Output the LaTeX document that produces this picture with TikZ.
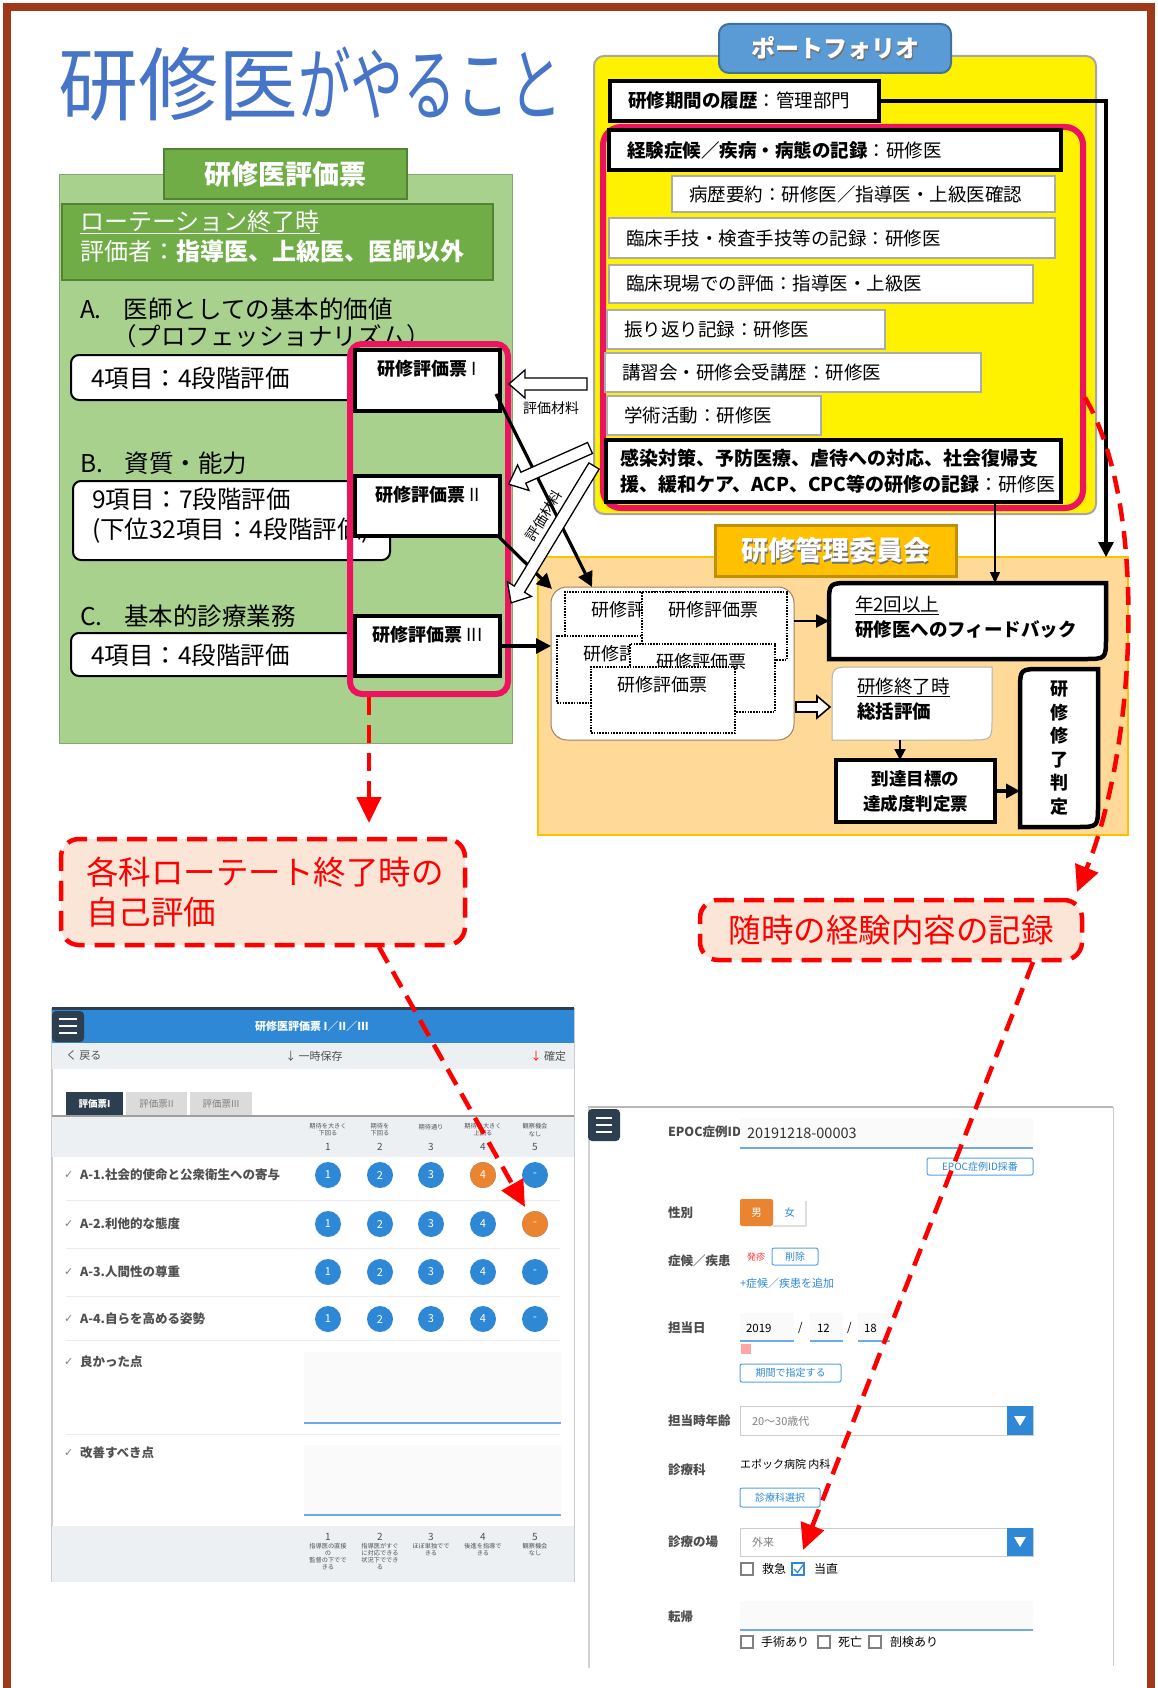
\documentclass[tikz,border=0pt]{standalone}
\usepackage{fontspec}
\setmainfont{Noto Sans CJK JP}
\newfontfamily\symfont{DejaVu Sans}
\usetikzlibrary{arrows.meta,calc}
\definecolor{framec}{RGB}{160,57,25}
\definecolor{titleblue}{RGB}{70,117,200}
\definecolor{glight}{RGB}{169,209,142}
\definecolor{gmid}{RGB}{112,173,71}
\definecolor{gborder}{RGB}{84,130,53}
\definecolor{pinkc}{RGB}{236,20,95}
\definecolor{tabblue}{RGB}{91,155,213}
\definecolor{tabblueb}{RGB}{65,113,156}
\definecolor{ofill}{RGB}{255,217,151}
\definecolor{oborder}{RGB}{255,192,0}
\definecolor{otabc}{RGB}{255,192,0}
\definecolor{otabb}{RGB}{191,144,0}
\definecolor{callfill}{RGB}{251,229,214}
\definecolor{appblue}{RGB}{46,136,214}
\definecolor{appdark}{RGB}{44,62,80}
\definecolor{appgray}{RGB}{237,240,242}
\definecolor{apporange}{RGB}{234,132,48}
\definecolor{apptext}{RGB}{80,80,80}
\begin{document}
\begin{tikzpicture}[x=1pt,y=-1pt,
  every node/.style={inner sep=0pt,outer sep=0pt},
  blk/.style={line width=3.2pt,-{Triangle[length=15pt,width=15pt]}},
  reddash/.style={draw=red,line width=4.5pt,dash pattern=on 18pt off 10pt,-{Triangle[length=26pt,width=24pt]}},
  wbox/.style={draw=gray!65,line width=1.3pt,fill=white,anchor=north west},
  blkbox/.style={draw=black,line width=4.5pt,fill=white,anchor=north west},
  hol/.style={draw=black,line width=1.3pt,fill=white,line join=miter},
  dotr/.style={draw=black,line width=2pt,dash pattern=on 1.6pt off 1.2pt,fill=white,anchor=north west},
  ptxt/.style={anchor=west,font=\fontsize{18.5}{23}\selectfont},
  gtxt/.style={anchor=west,font=\fontsize{24.5}{30}\selectfont},
  htxt/.style={font=\fontsize{18}{20}\selectfont},
  stxt/.style={anchor=north west,font=\fontsize{18}{21}\selectfont},
  call/.style={draw=red,line width=4.5pt,dash pattern=on 20pt off 10pt,fill=callfill,rounded corners=18pt,anchor=north west},
  rtxt/.style={text=red,font=\fontsize{32.5}{40}\selectfont},
  lab/.style={anchor=west,text=black!70,font=\bfseries\fontsize{12.5}{14}\selectfont},
  tiny/.style={align=center,text=apptext,font=\fontsize{6.2}{7.2}\selectfont},
  btn/.style={draw=appblue!80,line width=1pt,rounded corners=2pt,fill=white,anchor=north west,text=appblue,font=\fontsize{10}{11}\selectfont},
  rowl/.style={anchor=west,text=apptext,font=\bfseries\fontsize{12.5}{14}\selectfont},
  tck/.style={anchor=west,text=gray,font=\symfont\fontsize{11}{12}\selectfont},
  cnum/.style={circle,minimum size=26,text=white,font=\fontsize{11}{12}\selectfont},
  stx/.style={anchor=west,font=\fontsize{11.5}{13}\selectfont},
]
\fill[white] (0,0) rectangle (1158,1688);
\useasboundingbox (0,0) rectangle (1158,1688);
\draw[framec,line width=8pt] (7,7) rectangle (1151,1730);

% title
\node[anchor=west,text=titleblue,font=\fontsize{80}{90}\selectfont] (title) at (58,84) {研修医\scalebox{0.66}[1]{がやること}};

% ---------------- green panel
\node[draw=gborder!70,line width=1pt,fill=glight,minimum width=453,minimum height=568,anchor=north west] (gpanel) at (59,175) {};
\node[draw=gborder,line width=2pt,fill=gmid,minimum width=243,minimum height=50,anchor=north west] (gtab) at (164,149) {};
\node[text=white,font=\bfseries\fontsize{27}{30}\selectfont] (gtabt) at (gtab.center) {研修医評価票};
\node[draw=gborder,line width=2pt,fill=gmid,minimum width=431,minimum height=76,anchor=north west] (rot) at (62,204) {};
\node[anchor=north west,align=left,text=white,font=\fontsize{24}{30}\selectfont] (rott) at (80,210) {\underline{ローテーション終了時}\\評価者：\textbf{指導医、上級医、医師以外}};

\node[gtxt] (Ah) at (80,309) {A.\hspace{0.9em}医師としての基本的価値};
\node[gtxt] (Ah2) at (112,336) {（プロフェッショナリズム）};
\node[draw,line width=2pt,fill=white,rounded corners=8pt,minimum width=311,minimum height=45,anchor=north west] (boxA) at (71,355) {};
\node[gtxt] (boxAt) at (91,378) {4項目：4段階評価};

\node[gtxt] (Bh) at (80,463) {B.\hspace{0.9em}資質・能力};
\node[draw,line width=2pt,fill=white,rounded corners=8pt,minimum width=317,minimum height=79,anchor=north west] (boxB) at (73,481) {};
\node[anchor=north west,align=left,font=\fontsize{24.5}{30}\selectfont] (boxBt) at (92,488) {9項目：7段階評価\\(下位32項目：4段階評価)};

\node[gtxt] (Ch) at (80,616) {C.\hspace{0.9em}基本的診療業務};
\node[draw,line width=2pt,fill=white,rounded corners=8pt,minimum width=306,minimum height=43,anchor=north west] (boxC) at (71,633) {};
\node[gtxt] (boxCt) at (91,655) {4項目：4段階評価};

\node[draw=pinkc,line width=6pt,rounded corners=12pt,minimum width=158,minimum height=350,anchor=north west] (pinkL) at (350,344) {};
\node[blkbox,minimum width=145,minimum height=61] (h1) at (355,350) {};
\node[htxt] (h1t) at ($(h1.north)+(0,19)$) {\textbf{研修評価票} I};
\node[blkbox,minimum width=145,minimum height=60] (h2) at (355,476) {};
\node[htxt] (h2t) at ($(h2.north)+(0,19)$) {\textbf{研修評価票} II};
\node[blkbox,minimum width=145,minimum height=60] (h3) at (355,616) {};
\node[htxt] (h3t) at ($(h3.north)+(0,19)$) {\textbf{研修評価票} III};

% ---------------- portfolio
\node[draw=gray!70,line width=2pt,fill=yellow,rounded corners=10pt,minimum width=502,minimum height=458,anchor=north west] (yel) at (594,56) {};
\node[draw=tabblueb,line width=2pt,fill=tabblue,rounded corners=10pt,minimum width=232,minimum height=49,anchor=north west] (ptab) at (719,24) {};
\node[text=black!55,font=\bfseries\fontsize{24}{30}\selectfont] (ptabs) at ($(ptab.center)+(1.5,1.5)$) {ポートフォリオ};
\node[text=white,font=\bfseries\fontsize{24}{30}\selectfont] (ptabt) at (ptab.center) {ポートフォリオ};
\node[draw=pinkc,line width=6pt,rounded corners=18pt,minimum width=480,minimum height=381,anchor=north west] (pinkP) at (603,127) {};

\node[blkbox,minimum width=269,minimum height=40] (hist) at (610,81) {};
\node[ptxt] (histt) at ($(hist.west)+(18,0)$) {\textbf{研修期間の履歴}：管理部門};
\node[blkbox,minimum width=452,minimum height=40] (keiken) at (609,130) {};
\node[ptxt] (keikent) at ($(keiken.west)+(18,0)$) {\textbf{経験症候／疾病・病態の記録}：研修医};
\node[wbox,minimum width=383,minimum height=36] (byo) at (672,176) {};
\node[ptxt] (byot) at ($(byo.west)+(17,0)$) {病歴要約：研修医／指導医・上級医確認};
\node[wbox,minimum width=446,minimum height=40] (shugi) at (609,218) {};
\node[ptxt] (shugit) at ($(shugi.west)+(17,0)$) {臨床手技・検査手技等の記録：研修医};
\node[wbox,minimum width=424,minimum height=38] (genba) at (609,265) {};
\node[ptxt] (genbat) at ($(genba.west)+(17,0)$) {臨床現場での評価：指導医・上級医};
\node[wbox,minimum width=278,minimum height=39] (furi) at (607,310) {};
\node[ptxt] (furit) at ($(furi.west)+(17,0)$) {振り返り記録：研修医};
\node[wbox,minimum width=376,minimum height=39] (koshu) at (605,353) {};
\node[ptxt] (koshut) at ($(koshu.west)+(17,0)$) {講習会・研修会受講歴：研修医};
\node[wbox,minimum width=214,minimum height=39] (gaku) at (607,396) {};
\node[ptxt] (gakut) at ($(gaku.west)+(17,0)$) {学術活動：研修医};
\node[blkbox,minimum width=455,minimum height=62] (kansen) at (606,440) {};
\node[anchor=west,align=left,font=\fontsize{19}{26}\selectfont] (kansent) at ($(kansen.west)+(14,0)$) {\textbf{感染対策、予防医療、虐待への対応、社会復帰支}\\\textbf{援、緩和ケア、ACP、CPC等の研修の記録}：研修医};

% ---------------- orange panel
\node[draw=oborder,line width=1.5pt,fill=ofill,minimum width=590,minimum height=278,anchor=north west] (opanel) at (538,557) {};
\node[draw=otabb,line width=3pt,fill=otabc,minimum width=241,minimum height=51,anchor=north west] (otab) at (715,525) {};
\node[text=black!55,font=\bfseries\fontsize{27}{32}\selectfont] (otabs) at ($(otab.center)+(1.5,1.5)$) {研修管理委員会};
\node[text=white,font=\bfseries\fontsize{27}{32}\selectfont] (otabt) at (otab.center) {研修管理委員会};

\node[draw=brown!50!gray,line width=1pt,fill=white,rounded corners=16pt,minimum width=243,minimum height=153,anchor=north west] (stack) at (551,587) {};
\node[dotr,minimum width=135,minimum height=58] (sA) at (565,592) {};
\node[stxt] at ($(sA.north west)+(26,9)$) {研修評価票};
\node[dotr,minimum width=143,minimum height=67] (sC) at (557,636) {};
\node[stxt] at ($(sC.north west)+(26,9)$) {研修評価票};
\node[dotr,minimum width=145,minimum height=68] (sB) at (642,592) {};
\node[stxt] at ($(sB.north west)+(26,9)$) {研修評価票};
\node[dotr,minimum width=145,minimum height=68] (sD) at (630,644) {};
\node[stxt] at ($(sD.north west)+(26,9)$) {研修評価票};
\node[dotr,minimum width=144,minimum height=66] (sE) at (591,667) {};
\node[stxt] at ($(sE.north west)+(26,9)$) {研修評価票};

% feedback box
\node[minimum width=277,minimum height=76,anchor=north west] (fb) at (829,583) {};
\draw[line width=4.5pt,fill=white] (fb.south west) -- ($(fb.north west)+(0,22)$) .. controls (fb.north west) .. ($(fb.north west)+(22,0)$) -- (fb.north east) -- ($(fb.south east)+(0,-22)$) .. controls (fb.south east) .. ($(fb.south east)+(-22,0)$) -- cycle;
\node[anchor=north west,align=left,font=\fontsize{18.5}{25}\selectfont] (fbt) at (855,596) {\underline{年2回以上}\\\textbf{研修医へのフィードバック}};
% summary box
\node[minimum width=160,minimum height=73,anchor=north west] (sk) at (832,667) {};
\draw[line width=1pt,draw=gray!60,fill=white] (sk.south west) -- ($(sk.north west)+(0,22)$) .. controls (sk.north west) .. ($(sk.north west)+(22,0)$) -- (sk.north east) -- ($(sk.south east)+(0,-22)$) .. controls (sk.south east) .. ($(sk.south east)+(-22,0)$) -- cycle;
\node[anchor=north west,align=left,font=\fontsize{18.5}{25}\selectfont] (skt) at (857,678) {\underline{研修終了時}\\\textbf{総括評価}};
% attainment box
\node[blkbox,minimum width=159,minimum height=62] (tat) at (836,760) {};
\node[align=center,font=\bfseries\fontsize{17.5}{25}\selectfont] (tatt) at (tat.center) {到達目標の\\達成度判定票};
% completion
\node[minimum width=78,minimum height=158,anchor=north west] (hantei) at (1020,669) {};
\draw[line width=4.5pt,fill=white] (hantei.south west) -- ($(hantei.north west)+(0,22)$) .. controls (hantei.north west) .. ($(hantei.north west)+(22,0)$) -- (hantei.north east) -- ($(hantei.south east)+(0,-22)$) .. controls (hantei.south east) .. ($(hantei.south east)+(-22,0)$) -- cycle;
\node[align=center,font=\bfseries\fontsize{18}{23.5}\selectfont] (hanteit) at (hantei.center) {研\\修\\修\\了\\判\\定};

% ---------------- connectors
\draw[blk] (hist.east) -| ($(opanel.north east)+(-22,0)$);
\coordinate (xc) at (995,0);
\draw[line width=1.5pt,-{Triangle[length=11pt,width=10pt]}] (kansen.south -| xc) -- (fb.north -| xc);
\draw[line width=2.6pt,-{Triangle[length=13pt,width=13pt]}] (fb.west -| stack.east) -- (fb.west);
\coordinate (xd) at (900,0);
\draw[line width=2pt,-{Triangle[length=11pt,width=11pt]}] (sk.south -| xd) -- (tat.north -| xd);
\draw[line width=3.5pt,-{Triangle[length=14pt,width=14pt]}] (tat.east) -- (tat.east -| hantei.west);

\draw[blk] ($(h1.south east)+(-4,-17)$) -- ($(stack.north west)+(41,0)$);
\draw[blk] ($(h2.south east)+(-3,-1)$) -- ($(stack.north west)+(1,2)$);
\draw[blk] (h3.east) -- (h3.east -| stack.west);

% hollow arrows
\begin{scope}[shift={(587,384)},rotate=180]
\draw[hol] (0,-6)--(62,-6)--(62,-14)--(78,0)--(62,14)--(62,6)--(0,6)--cycle;
\end{scope}
\node[font=\fontsize{14}{16}\selectfont] (mat1) at (551,408) {評価材料};
\begin{scope}[shift={(590,448)},rotate=204]
\draw[hol] (0,-6)--(73,-6)--(73,-14)--(89,0)--(73,14)--(73,6)--(0,6)--cycle;
\end{scope}
\begin{scope}[shift={(594,466)},rotate=238.8]
\draw[hol] (0,-6)--(144,-6)--(144,-14)--(160,0)--(144,14)--(144,6)--(0,6)--cycle;
\end{scope}
\node[rotate=58,font=\fontsize{14}{16}\selectfont] (mat2) at (544,516) {評価材料};
\begin{scope}[shift={(796,707)}]
\draw[hol,line width=1.6pt] (0,-5)--(21,-5)--(21,-11)--(34,0)--(21,11)--(21,5)--(0,5)--cycle;
\end{scope}

% ---------------- callouts
\node[call,minimum width=404,minimum height=106] (call1) at (61,839) {};
\node[rtxt,anchor=north west,align=left] (call1t) at (86,857) {各科ローテート終了時の\\自己評価};
\node[call,minimum width=382,minimum height=60] (call2) at (700,900) {};
\node[rtxt] (call2t) at (call2.center) {随時の経験内容の記録};

% ---------------- left screenshot
\fill[white] (52,1008) rectangle (574,1582);
\draw[gray!40,line width=1.5pt] (52,1008) -- (52,1582);
\draw[gray!40,line width=1pt] (574,1008) -- (574,1582);
\fill[appdark] (52,1007) rectangle (574,1010);
\fill[appblue] (52,1010) rectangle (574,1043);
\fill[appdark,rounded corners=4pt] (52,1011) rectangle (84,1042);
\foreach \yy in {1019,1026,1033} \draw[white,line width=2pt] (59,\yy) -- (77,\yy);
\node[text=white,font=\bfseries\fontsize{11}{12}\selectfont] at (312,1026) {研修医評価票 I／II／III};
\fill[appgray] (52,1043) rectangle (574,1069);
\node[anchor=west,text=apptext,font=\fontsize{11}{12}\selectfont] at (66,1056) {く 戻る};
\node[text=apptext,font=\fontsize{11}{12}\selectfont] at (314,1056) {↓ 一時保存};
\node[anchor=east,text=apptext,font=\fontsize{11}{12}\selectfont] at (566,1056) {{\color{red}↓} 確定};
\fill[appdark] (66,1092) rectangle (123,1116);
\node[text=white,font=\bfseries\fontsize{9.5}{10}\selectfont] at (94.5,1104) {評価票I};
\fill[gray!28] (126,1092) rectangle (187,1116);
\node[text=gray,font=\fontsize{9.5}{10}\selectfont] at (156.5,1104) {評価票II};
\fill[gray!28] (190,1092) rectangle (252,1116);
\node[text=gray,font=\fontsize{9.5}{10}\selectfont] at (221,1104) {評価票III};
\fill[appgray] (52,1116) rectangle (574,1157);
\draw[gray!75,line width=1.2pt] (52,1116) -- (574,1116);
\node[tiny] at (328,1130) {期待を大きく\\下回る};
\node[tiny] at (380,1130) {期待を\\下回る};
\node[tiny] at (431,1127) {期待通り};
\node[tiny] at (483,1130) {期待を大きく\\上回る};
\node[tiny] at (535,1130) {観察機会\\なし};
\foreach \xx/\n in {328/1,380/2,431/3,483/4,535/5}
  \node[text=apptext,font=\fontsize{10}{11}\selectfont] at (\xx,1147) {\n};
\foreach \yy in {1200,1248,1296,1340,1434} \draw[gray!15,line width=1pt] (66,\yy) -- (560,\yy);
\foreach \yy/\lab in {1175/A-1.社会的使命と公衆衛生への寄与,1224/A-2.利他的な態度,1272/A-3.人間性の尊重,1319/A-4.自らを高める姿勢}{
  \node[tck] at (64,\yy) {✓};
  \node[rowl] at (80,\yy) {\lab};
  \foreach \xx/\n in {328/1,380/2,431/3,483/4,535/-}
    \node[cnum,fill=appblue] at (\xx,\yy) {\n};
}
\node[cnum,fill=apporange] at (483,1175) {4};
\node[cnum,fill=apporange] at (535,1224) {-};
\node[tck] at (64,1362) {✓};
\node[rowl] at (80,1362) {良かった点};
\fill[gray!4] (304,1352) rectangle (561,1423);
\draw[appblue!70,line width=1.2pt] (304,1423) -- (561,1423);
\node[tck] at (64,1453) {✓};
\node[rowl] at (80,1453) {改善すべき点};
\fill[gray!4] (304,1445) rectangle (561,1515);
\draw[appblue!70,line width=1.2pt] (304,1515) -- (561,1515);
\fill[appgray] (52,1526) rectangle (574,1582);
\foreach \xx/\n in {328/1,380/2,431/3,483/4,535/5}
  \node[text=apptext,font=\fontsize{10}{11}\selectfont] at (\xx,1537) {\n};
\node[tiny,anchor=north] at (328,1543) {指導医の直接\\の\\監督の下でで\\きる};
\node[tiny,anchor=north] at (380,1543) {指導医がすぐ\\に対応できる\\状況下ででき\\る};
\node[tiny,anchor=north] at (431,1543) {ほぼ単独でで\\きる};
\node[tiny,anchor=north] at (483,1543) {後進を指導で\\きる};
\node[tiny,anchor=north] at (535,1543) {観察機会\\なし};

% ---------------- right screenshot
\fill[white] (588,1105) rectangle (1113,1688);
\draw[gray!55,line width=1.2pt] (588,1107) -- (1113,1107);
\draw[gray!35,line width=2pt] (589,1107) -- (589,1668);
\draw[gray!40,line width=1pt] (1113,1107) -- (1113,1666);
\fill[appdark,rounded corners=4pt] (588,1109) rectangle (620,1141);
\foreach \yy in {1118,1125,1132} \draw[white,line width=2pt] (596,\yy) -- (612,\yy);
\node[lab] at (668,1132) {EPOC症例ID};
\fill[gray!4] (740,1118) rectangle (1033,1148);
\draw[appblue!70,line width=1.2pt] (740,1148) -- (1033,1148);
\node[anchor=west,text=black!80,font=\fontsize{14.5}{16}\selectfont] at (747,1133) {20191218-00003};
\node[btn,minimum width=106,minimum height=17] at (927,1158) {EPOC症例ID採番};
\node[lab] at (668,1213) {性別};
\fill[apporange,rounded corners=2pt] (740,1199) rectangle (773,1226);
\node[text=white,font=\fontsize{10.5}{11}\selectfont] at (756.5,1212.5) {男};
\draw[gray!25,line width=1.2pt] (773,1226) -- (806,1226) -- (806,1201);
\node[text=appblue,font=\fontsize{10.5}{11}\selectfont] at (789.5,1212.5) {女};
\node[lab] at (668,1261) {症候／疾患};
\node[text=red!80,font=\fontsize{9}{10}\selectfont] at (756,1257) {発疹};
\node[btn,minimum width=46,minimum height=17] at (772,1248) {削除};
\node[anchor=west,text=appblue,font=\fontsize{11}{12}\selectfont] at (740,1283) {+症候／疾患を追加};
\node[lab] at (668,1328) {担当日};
\fill[gray!4] (740,1313) rectangle (794,1341);
\draw[appblue!70,line width=1.2pt] (740,1341) -- (794,1341);
\node[stx] at (746,1328) {2019};
\node[stx] at (798,1328) {/};
\fill[gray!4] (810,1313) rectangle (843,1341);
\draw[appblue!70,line width=1.2pt] (810,1341) -- (843,1341);
\node[stx] at (817,1328) {12};
\node[stx] at (847,1328) {/};
\fill[gray!4] (858,1313) rectangle (890,1341);
\draw[appblue!70,line width=1.2pt] (858,1341) -- (890,1341);
\node[stx] at (864,1328) {18};
\fill[red!35] (741,1344) rectangle (751,1354);
\node[btn,minimum width=101,minimum height=18] at (740,1364) {期間で指定する};
\node[lab] at (668,1421) {担当時年齢};
\draw[gray!40,line width=1pt,fill=white] (740,1406) rectangle (1033,1435);
\fill[appblue] (1007,1406) rectangle (1033,1435);
\fill[white] (1014,1416) -- (1026,1416) -- (1020,1426) -- cycle;
\node[anchor=west,text=gray,font=\fontsize{11}{12}\selectfont] at (752,1421) {20〜30歳代};
\node[lab] at (668,1470) {診療科};
\node[anchor=west,font=\fontsize{11}{12}\selectfont] at (740,1464) {エポック病院 内科};
\node[btn,minimum width=80,minimum height=19] at (740,1488) {診療科選択};
\node[lab] at (668,1542) {診療の場};
\draw[gray!40,line width=1pt,fill=white] (740,1528) rectangle (1033,1556);
\fill[appblue] (1007,1528) rectangle (1033,1556);
\fill[white] (1014,1537) -- (1026,1537) -- (1020,1547) -- cycle;
\node[anchor=west,text=gray,font=\fontsize{11}{12}\selectfont] at (752,1542) {外来};
\draw[gray,line width=1.2pt] (741,1563) rectangle (753,1575);
\node[anchor=west,font=\fontsize{12}{13}\selectfont] at (762,1569) {救急};
\draw[appblue,line width=1.2pt] (792,1563) rectangle (804,1575);
\draw[appblue,line width=1.3pt] (794,1569) -- (797.5,1572.5) -- (803,1565);
\node[anchor=west,font=\fontsize{12}{13}\selectfont] at (814,1569) {当直};
\node[lab] at (668,1617) {転帰};
\fill[gray!4] (740,1601) rectangle (1033,1630);
\draw[appblue!70,line width=1.2pt] (740,1630) -- (1033,1630);
\draw[gray,line width=1.2pt] (741,1636) rectangle (753,1648);
\node[anchor=west,font=\fontsize{12}{13}\selectfont] at (761,1642) {手術あり};
\draw[gray,line width=1.2pt] (818,1636) rectangle (830,1648);
\node[anchor=west,font=\fontsize{12}{13}\selectfont] at (838,1642) {死亡};
\draw[gray,line width=1.2pt] (869,1636) rectangle (881,1648);
\node[anchor=west,font=\fontsize{12}{13}\selectfont] at (890,1642) {剖検あり};

% ---------------- red dashed arrows
\coordinate (tipA) at (525,1207);
\coordinate (tipB) at (803,1550);
\draw[reddash] ($(pinkL.south west)+(19,3)$) -- ($(call1.north west)+(308,-16)$);
\draw[reddash] ($(call1.south west)+(318,2)$) -- (tipA);
\draw[reddash] ($(pinkP.east)+(2,80)$) .. controls (1150,510) and (1135,750) .. ($(call2.north east)+(-5,-8)$);
\draw[reddash] ($(call2.south west)+(333,2)$) -- (tipB);
\end{tikzpicture}
\end{document}
